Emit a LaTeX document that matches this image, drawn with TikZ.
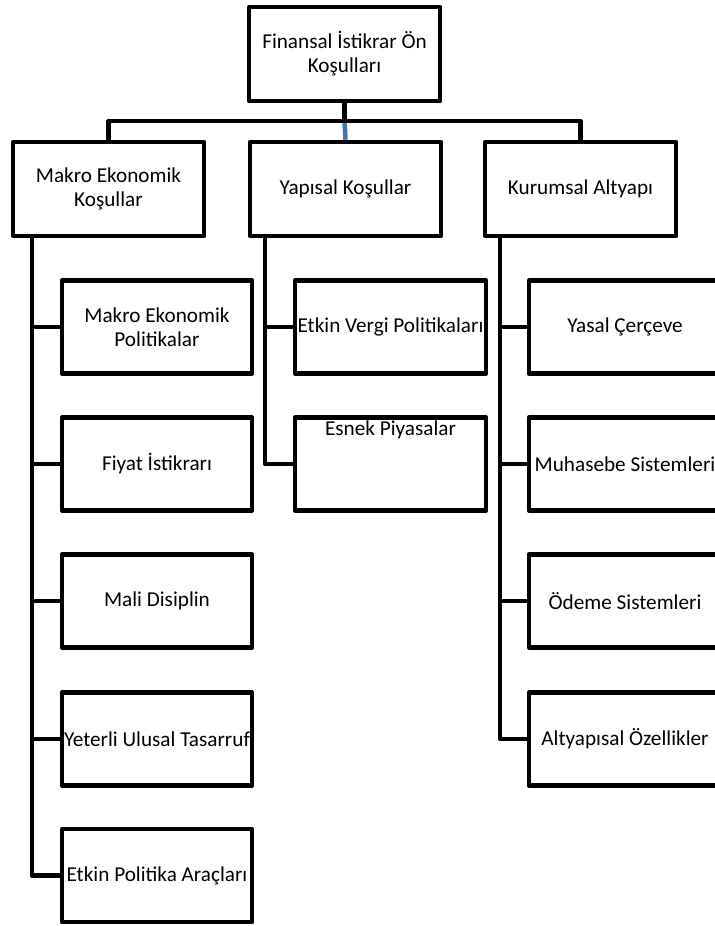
\documentclass[tikz,border=0pt]{standalone}
\usepackage{fontspec}
\setmainfont{Carlito}
\definecolor{linkblue}{RGB}{70,118,172}
\begin{document}
\begin{tikzpicture}[x=0.75pt,y=-0.75pt,
  every node/.style={font=\fontsize{15.9}{18}\selectfont, align=center, inner sep=0pt},
  box/.style={draw=black, line width=3.4pt, line join=round, fill=white, minimum width=143.25pt, minimum height=70.5pt},
  subbox/.style={box, minimum width=142.5pt, minimum height=69.75pt},
  conn/.style={draw=black, line width=3.4pt, line join=round},
  blueconn/.style={draw=linkblue, line width=3.4pt}]
\useasboundingbox (0,0) rectangle (715,926);
\clip (0,0) rectangle (715,926);

% top level
\node[box] (top) at (344.5,54) {Finansal İstikrar Ön\\Koşulları};

% second level
\node[box] (mk) at (108.5,189) {Makro Ekonomik\\Koşullar};
\node[box] (yk) at (345.5,189) {Yapısal Koşullar};
\node[box] (ka) at (580.5,189) {Kurumsal Altyapı};

% trunk positions
\coordinate (bar)    at (344.5,121);
\coordinate (trunkL) at (32,0);
\coordinate (trunkM) at (265,0);
\coordinate (trunkR) at (500,0);

% left column
\node[subbox] (mep) at (157,327)   {Makro Ekonomik\\Politikalar};
\node[subbox] (fi)  at (157,464)   {Fiyat İstikrarı};
\node[subbox] (md)  at (157,601)   {Mali Disiplin};
\node[subbox] (yut) at (157,739)   {Yeterli Ulusal Tasarruf};
\node[subbox] (epa) at (157,875.5) {Etkin Politika Araçları};

% middle column
\node[subbox, minimum width=143.25pt] (evp) at (390.5,327) {Etkin Vergi Politikaları};
\node[subbox, minimum width=143.25pt,
  label={[anchor=base, yshift=-15pt, inner sep=0pt]north:Esnek Piyasalar}] (ep) at (390.5,464) {};

% right column
\node[subbox, minimum width=144pt] (yc)  at (625,327) {Yasal Çerçeve};
\node[subbox, minimum width=144pt] (ms)  at (625,464) {Muhasebe Sistemleri};
\node[subbox, minimum width=144pt] (os)  at (625,601) {Ödeme Sistemleri};
\node[subbox, minimum width=144pt] (aoz) at (625,739) {Altyapısal Özellikler};

% connectors from the top box
\draw[blueconn] (bar) -- (yk.north);
\draw[conn] (top.south) -- (bar);
\draw[conn] (mk.north) |- (bar) -| (ka.north);

% left trunk
\foreach \c in {mep,fi,md,yut,epa}
  \draw[conn] (mk.south -| trunkL) |- (\c.west);
% middle trunk
\foreach \c in {evp,ep}
  \draw[conn] (yk.south -| trunkM) |- (\c.west);
% right trunk
\foreach \c in {yc,ms,os,aoz}
  \draw[conn] (ka.south -| trunkR) |- (\c.west);
\end{tikzpicture}
\end{document}
